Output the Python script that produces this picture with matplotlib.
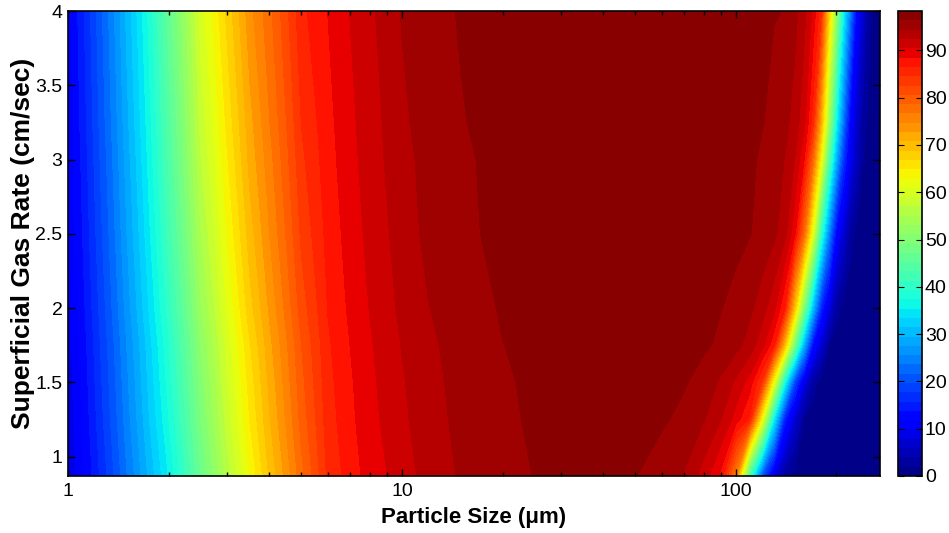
import numpy as np
import matplotlib.pyplot as plt
from matplotlib.ticker import FixedLocator, FixedFormatter, NullFormatter

plt.rcParams['font.family'] = ['Liberation Sans', 'DejaVu Sans']

# particle size (um) and superficial gas rate (cm/s) grid
sizes = [1, 1.25, 1.5, 1.75, 2, 2.5, 3, 3.5, 4, 5, 6, 7, 8, 10, 12, 15, 20, 25, 30,
         40, 50, 60, 70, 80, 90, 100, 110, 120, 130, 140, 150, 160, 170, 180, 190,
         200, 210, 220, 230, 240, 250, 260, 270]
gas_rates = [0.87, 1.25, 1.5, 1.75, 2.0, 2.5, 3.0, 3.25, 4.0]

# recovery (%), one list per gas rate
rec_087 = [8, 16, 23.5, 30, 35.5, 47, 56, 63, 69, 78, 85, 87.5, 89.3, 91.5, 93.2, 94.6, 95.7, 96.4, 97.0,
           97.3, 96.4, 95.3, 94.2, 91.5, 88, 76, 42, 20, 8.5, 2.5, 1.2, 0.6,
           0.3, 0.3, 0.3, 0.3, 0.3, 0.3, 0.3, 0.3, 0.3, 0.3, 0.3]
rec_125 = [8.5, 16.9, 24.6, 31.4, 37.3, 49.2, 58, 64.9, 70.5, 79.4, 85.6, 88, 89.8, 92, 93.6, 94.9, 96, 96.6, 97.2,
           97.5, 97.3, 96.6, 95.8, 94.5, 92.5, 89.5, 86, 62, 35, 15, 7, 1.8, 0.8, 0.4,
           0.3, 0.3, 0.3, 0.3, 0.3, 0.3, 0.3, 0.3, 0.3]
rec_150 = [8.75, 17.3, 25.1, 32, 38.2, 50.2, 58.9, 65.7, 71.2, 80, 85.9, 88.2, 90, 92.2, 93.8, 95, 96.1, 96.7, 97.2,
           97.6, 97.6, 97.2, 96.5, 95.6, 94, 92, 89.5, 84, 62, 37, 19, 8.7, 3, 1, 0.5,
           0.3, 0.3, 0.3, 0.3, 0.3, 0.3, 0.3, 0.3]
rec_175 = [9, 17.7, 25.6, 32.6, 39, 51.3, 59.8, 66.6, 72, 80.6, 86.2, 88.5, 90.2, 92.5, 94, 95.2, 96.3, 96.9, 97.3,
           97.7, 97.8, 97.5, 97.0, 96.6, 96.0, 95.0, 93.5, 91.0, 87.0, 70, 48, 29, 13, 7, 2, 0.8, 0.4,
           0.3, 0.3, 0.3, 0.3, 0.3, 0.3]
rec_200 = [9.35, 18.25, 26.4, 33.6, 40.2, 52.9, 61.2, 68, 73, 81.6, 86.6, 88.9, 90.5, 92.9, 94.3, 95.5, 96.5, 97.0, 97.5,
           97.8, 97.9, 97.7, 97.3, 96.9, 96.4, 95.8, 94.8, 93.2, 91, 86.5, 69, 49, 30.5, 15.6, 8.3,
           2.8, 1.2, 0.6, 0.3, 0.3, 0.3, 0.3, 0.3]
rec_250 = [9.9, 19.1, 27.5, 35, 42, 55, 63.1, 69.8, 74.6, 83, 87.2, 89.4, 91, 93.4, 94.9, 95.9, 96.9, 97.3, 97.6,
           98.0, 98.1, 98.0, 97.8, 97.5, 97.2, 96.8, 96.4, 95.8, 94.8, 93, 89, 78, 61, 40, 25,
           12, 7, 2.8, 1.2, 0.6, 0.4, 0.3, 0.3]
rec_300 = [10.3, 19.8, 28.4, 36.1, 43.5, 56.9, 64.7, 71.4, 75.8, 84.1, 87.7, 89.8, 91.4, 93.8, 95, 96, 97, 97.5, 97.8,
           98.1, 98.2, 98.1, 97.9, 97.6, 97.3, 97.0, 96.6, 96.1, 95.4, 94.3, 92.3, 88.5, 78.5, 63, 44,
           29, 17, 9.5, 5.5, 2, 1, 0.6, 0.4]
rec_325 = [10.5, 20.2, 28.9, 36.6, 44.2, 57.8, 65.5, 72, 76.5, 84.6, 87.9, 90, 91.5, 94, 95.3, 96.2, 97.2, 97.6, 97.9,
           98.1, 98.2, 98.1, 98.0, 97.8, 97.5, 97.1, 96.8, 96.4, 95.9, 95.0, 93.5, 91, 85.5, 71, 53,
           36, 23, 11.5, 6.5, 2.8, 1.5, 0.8, 0.5]
rec_400 = [11, 21, 30, 38, 46, 60, 67.5, 74, 78, 86, 88.5, 90.5, 92, 94.5, 95.6, 96.5, 97.4, 97.8, 98.0,
           98.2, 98.3, 98.2, 98.1, 97.9, 97.6, 97.3, 97.0, 96.7, 96.4, 96.3, 95, 93, 90, 85, 68,
           52, 36, 24, 12, 7, 2.5, 1, 0.5]

recovery = np.array([rec_087, rec_125, rec_150, rec_175, rec_200,
                     rec_250, rec_300, rec_325, rec_400])

fig = plt.figure(figsize=(9.49, 5.33), dpi=100)
ax = fig.add_axes([0.0717, 0.107, 0.8556, 0.872])
cax = fig.add_axes([0.9463, 0.107, 0.0253, 0.872])

levels = np.linspace(0, recovery.max(), 51)
cs = ax.contourf(sizes, gas_rates, recovery, levels=levels, cmap='jet')

ax.set_xscale('log')
ax.set_xlim(1, 270)
ax.set_ylim(0.87, 4)

ax.xaxis.set_major_locator(FixedLocator([1, 10, 100]))
ax.xaxis.set_major_formatter(FixedFormatter(['1', '10', '100']))
ax.xaxis.set_minor_locator(FixedLocator([2, 3, 4, 5, 6, 7, 8, 9, 20, 30, 40, 50, 60, 70, 80, 90, 200]))
ax.xaxis.set_minor_formatter(NullFormatter())
ax.set_yticks([1, 1.5, 2, 2.5, 3, 3.5, 4])
ax.set_yticklabels(['1', '1.5', '2', '2.5', '3', '3.5', '4'])

ax.tick_params(which='both', direction='in', top=True, right=True, labelsize=14, width=1)
ax.tick_params(which='major', length=5, pad=5)
ax.tick_params(axis='y', which='major', pad=4)
ax.tick_params(which='minor', length=3)
for sp in ax.spines.values():
    sp.set_linewidth(1.2)

ax.set_xlabel('Particle Size (\u03bcm)', fontsize=16, fontweight='bold', labelpad=5)
ax.set_ylabel('Superficial Gas Rate (cm/sec)', fontsize=19, fontweight='bold', labelpad=0)

cbar = fig.colorbar(cs, cax=cax, ticks=range(0, 100, 10))
cbar.ax.tick_params(direction='in', left=True, right=True, length=4, labelsize=14, pad=2)
cbar.outline.set_linewidth(1.2)

fig.savefig('out.png', dpi=100)
